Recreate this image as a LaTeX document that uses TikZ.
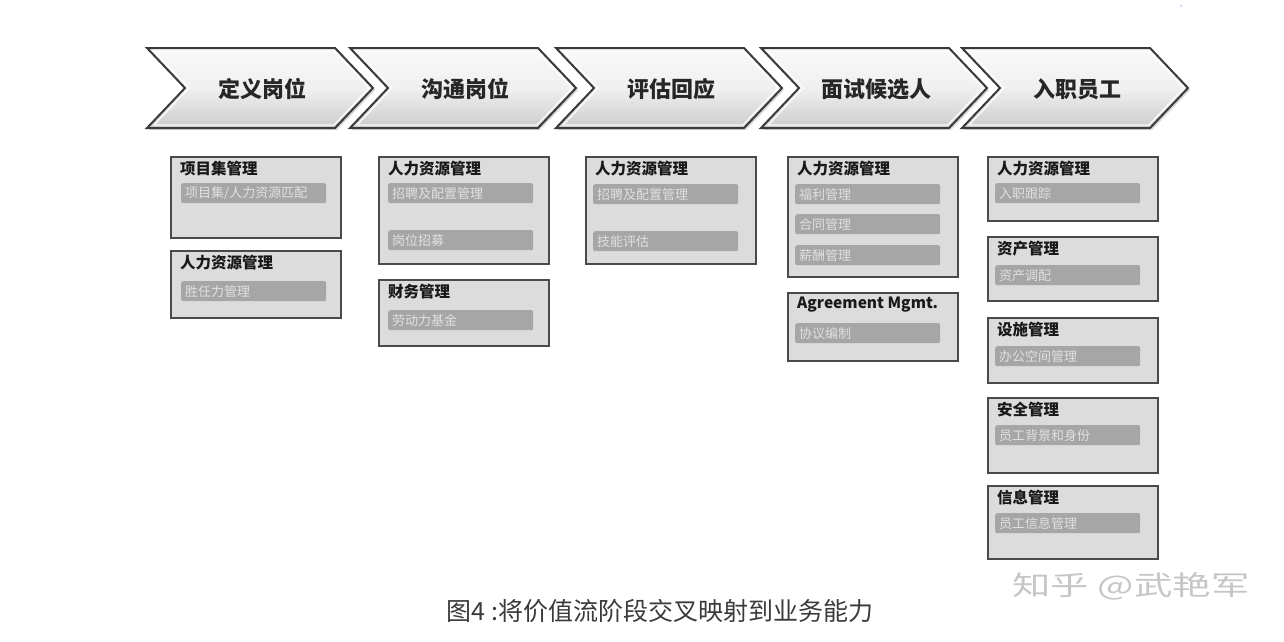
\documentclass[tikz,border=0pt]{standalone}
\usepackage{fontspec}
\setmainfont{Noto Sans CJK SC}
\usetikzlibrary{shadows}
\definecolor{edge}{HTML}{3A3A3A}
\definecolor{boxedge}{HTML}{4A4A4A}
\definecolor{boxfill}{HTML}{DCDCDC}
\definecolor{barfill}{HTML}{A6A6A6}
\definecolor{bartext}{HTML}{E0E0E0}
\definecolor{captext}{HTML}{3A3A3A}
\definecolor{marktext}{HTML}{C6C6C6}
\begin{document}
\begin{tikzpicture}[x=1pt,y=-1pt,
  chev/.style={draw=edge,line width=2pt,line join=miter,
    top color=gray!5,bottom color=gray!40,middle color=gray!12,
    drop shadow={shadow xshift=2pt,shadow yshift=-2pt,opacity=0.3}},
  chevhi/.style={draw=white,line width=1.4pt,line join=miter,opacity=0.85},
  steplabel/.style={inner sep=0pt,font=\bfseries\fontsize{22}{22}\selectfont,text=black!85},
  capbox/.style={draw=boxedge,line width=1.8pt,fill=boxfill,anchor=north west,
    minimum width=170pt,inner sep=0pt,
    drop shadow={shadow xshift=1.5pt,shadow yshift=-1.5pt,opacity=0.3}},
  captitle/.style={anchor=west,inner sep=0pt,font=\bfseries\fontsize{15.5}{16}\selectfont,text=black!90},
  capbar/.style={anchor=north west,fill=barfill,rounded corners=2pt,
    minimum width=145pt,minimum height=20pt,text width=137pt,
    inner xsep=4pt,inner ysep=0pt,align=left,
    font=\fontsize{13}{13}\selectfont,text=bartext}]

\useasboundingbox (0,0) rectangle (1284,641);

% value stream stages
\foreach \x/\lab/\nm in {147/定义岗位/s1,350/沟通岗位/s2,556/评估回应/s3,761/面试候选人/s4,962/入职员工/s5}{
  \path[chev] (\x,48) -- ++(188,0) -- ++(38,40) -- ++(-38,40) -- ++(-188,0) -- ++(38,-40) -- cycle;
  \draw[chevhi] (\x+7,51) -- (\x+187,51) -- (\x+222,88) -- (\x+187,125) -- (\x+7,125) -- (\x+42,88) -- cycle;
  \node[steplabel] (\nm) at (\x+115,89) {\lab};
}

% column 1
\node[capbox,minimum height=81pt] (c1a) at (170,156) {};
\node[captitle] (c1a-t) at (180,169) {项目集管理};
\node[capbar] (c1a-b1) at (181,183) {项目集/人力资源匹配};
\node[capbox,minimum height=67pt] (c1b) at (170,250) {};
\node[captitle] (c1b-t) at (180,263) {人力资源管理};
\node[capbar] (c1b-b1) at (181,281) {胜任力管理};

% column 2
\node[capbox,minimum height=107pt] (c2a) at (378,156) {};
\node[captitle] (c2a-t) at (388,169) {人力资源管理};
\node[capbar] (c2a-b1) at (388,183) {招聘及配置管理};
\node[capbar] (c2a-b2) at (388,230) {岗位招募};
\node[capbox,minimum height=66pt] (c2b) at (378,279) {};
\node[captitle] (c2b-t) at (388,292) {财务管理};
\node[capbar] (c2b-b1) at (388,310) {劳动力基金};

% column 3
\node[capbox,minimum height=107pt] (c3a) at (585,156) {};
\node[captitle] (c3a-t) at (595,169) {人力资源管理};
\node[capbar] (c3a-b1) at (593,184) {招聘及配置管理};
\node[capbar] (c3a-b2) at (593,231) {技能评估};

% column 4
\node[capbox,minimum height=120pt] (c4a) at (787,156) {};
\node[captitle] (c4a-t) at (797,169) {人力资源管理};
\node[capbar] (c4a-b1) at (795,184) {福利管理};
\node[capbar] (c4a-b2) at (795,214) {合同管理};
\node[capbar] (c4a-b3) at (795,245) {薪酬管理};
\node[capbox,minimum height=68pt] (c4b) at (787,292) {};
\node[captitle] (c4b-t) at (797,305) {Agreement Mgmt.};
\node[capbar] (c4b-b1) at (795,323) {协议编制};

% column 5
\node[capbox,minimum height=64pt] (c5a) at (987,156) {};
\node[captitle] (c5a-t) at (997,169) {人力资源管理};
\node[capbar] (c5a-b1) at (995,183) {入职跟踪};
\node[capbox,minimum height=64pt] (c5b) at (987,236) {};
\node[captitle] (c5b-t) at (997,249) {资产管理};
\node[capbar] (c5b-b1) at (995,265) {资产调配};
\node[capbox,minimum height=65pt] (c5c) at (987,317) {};
\node[captitle] (c5c-t) at (997,330) {设施管理};
\node[capbar] (c5c-b1) at (995,346) {办公空间管理};
\node[capbox,minimum height=75pt] (c5d) at (987,397) {};
\node[captitle] (c5d-t) at (997,410) {安全管理};
\node[capbar] (c5d-b1) at (995,425) {员工背景和身份};
\node[capbox,minimum height=73pt] (c5e) at (987,485) {};
\node[captitle] (c5e-t) at (997,498) {信息管理};
\node[capbar] (c5e-b1) at (995,513) {员工信息管理};

% caption and signature
\node[inner sep=0pt,font=\fontsize{25}{25}\selectfont,text=captext] (caption) at (660,611) {图4 :将价值流阶段交叉映射到业务能力};
\node[inner sep=0pt,font=\fontsize{30}{30}\selectfont,text=marktext,xscale=1.28,yscale=0.9] (mark) at (1131,586) {知乎 @武艳军};
\fill[gray!30!blue!20] (1181,6) circle (1.5pt);
\end{tikzpicture}
\end{document}
